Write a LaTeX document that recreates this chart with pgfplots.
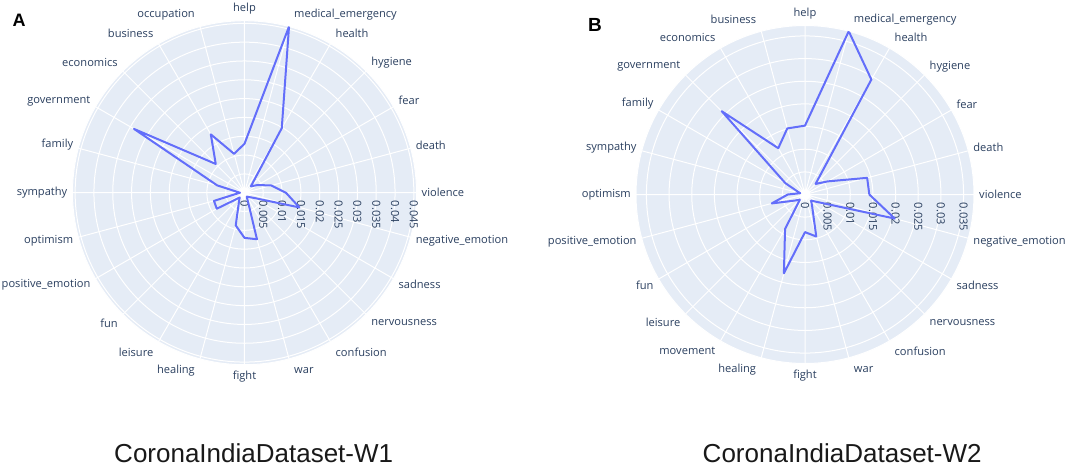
\documentclass[border=0pt]{standalone}
\usepackage{fontspec}
\setmainfont{Open Sans}
\newfontfamily\arial{Liberation Sans}
\usepackage{pgfplots}
\pgfplotsset{compat=1.18}
\usepgfplotslibrary{polar}
\definecolor{plotbg}{HTML}{E5ECF6}
\definecolor{tracecol}{HTML}{636EFA}
\definecolor{labcol}{HTML}{2A3F5F}

\pgfplotstableread{
ang val
0 0.0110
15 0.0074
30 0.0041
45 0.0024
60 0.0198
75 0.0457
90 0.0130
105 0.0107
120 0.0179
135 0.0108
150 0.0339
165 0.0075
180 0.0012
195 0.0084
210 0.0085
225 0.0018
240 0.0030
255 0.0090
270 0.0120
285 0.0128
300 0.0012
315 0.0016
330 0.0027
345 0.0151
360 0.0110
}\dataA

\pgfplotstableread{
ang val
0 0.0142
15 0.0142
30 0.0058
45 0.0033
60 0.0293
75 0.0373
90 0.0152
105 0.0151
120 0.0118
135 0.0260
150 0.0050
165 0.0011
180 0.0038
195 0.0076
210 0.0027
225 0.0016
240 0.0088
255 0.0180
270 0.0083
285 0.0096
300 0.0032
315 0.0019
330 0.0034
345 0.0205
360 0.0142
}\dataB

\pgfplotsset{
  myradar/.style={
    anchor=center,
    scale only axis,
    xmin=0, xmax=360,
    ymin=0,
    xtick={0,15,...,345},
    grid=major,
    major grid style={white, line width=1pt},
    axis line style={white, line width=1pt},
    axis background/.style={fill=plotbg},
    major tick length=0pt,
    tick style={draw=none},
    scaled y ticks=false,
    ticklabel style={font=\fontsize{11.1}{13}\selectfont, text=labcol},
    xticklabel style={
      /utils/exec={%
        \pgfmathsetmacro\myc{cos(\tick)}%
        \pgfmathsetmacro\mys{sin(\tick)}%
        \ifdim\myc pt>0.05pt \def\myanch{west}\def\myxs{5}%
        \else\ifdim\myc pt<-0.05pt \def\myanch{east}\def\myxs{-5}%
        \else\def\myanch{center}\def\myxs{0}\fi\fi
        \pgfmathsetmacro\myys{12*\mys}%
      },
      anchor=\myanch, xshift=\myxs pt, yshift=\myys pt, inner sep=0pt},
    yticklabel style={rotate=-90, anchor=west, inner sep=0pt, xshift=8pt},
  }
}

\begin{document}
\begin{tikzpicture}
\useasboundingbox (0pt,0pt) rectangle (1072pt,-467pt);
\fill[white] (0pt,0pt) rectangle (1072pt,-467pt);

\begin{polaraxis}[myradar,
  at={(244.5pt,-192.7pt)},
  width=344pt, height=344pt,
  ymax=0.0457,
  xticklabels={violence,death,fear,hygiene,health,medical\_emergency,help,occupation,business,economics,government,family,sympathy,optimism,positive\_emotion,fun,leisure,healing,fight,war,confusion,nervousness,sadness,negative\_emotion},
  ytick={0,0.005,0.01,0.015,0.02,0.025,0.03,0.035,0.04,0.045},
  yticklabels={0,0.005,0.01,0.015,0.02,0.025,0.03,0.035,0.04,0.045},
]
\addplot[tracecol, line width=2pt, line join=round, no markers] table[x=ang, y=val] {\dataA};
\end{polaraxis}

\begin{polaraxis}[myradar,
  at={(805pt,-194.5pt)},
  width=338pt, height=338pt,
  ymax=0.0373,
  xticklabels={violence,death,fear,hygiene,health,medical\_emergency,help,business,economics,government,family,sympathy,optimism,positive\_emotion,fun,leisure,movement,healing,fight,war,confusion,nervousness,sadness,negative\_emotion},
  ytick={0,0.005,0.01,0.015,0.02,0.025,0.03,0.035},
  yticklabels={0,0.005,0.01,0.015,0.02,0.025,0.03,0.035},
]
\addplot[tracecol, line width=2pt, line join=round, no markers] table[x=ang, y=val] {\dataB};
\end{polaraxis}

\node[anchor=base west, inner sep=0pt, font=\arial\bfseries\fontsize{18}{20}\selectfont] at (12.5pt,-26pt) {A};
\node[anchor=base west, inner sep=0pt, font=\arial\bfseries\fontsize{19}{21}\selectfont] at (588pt,-31.5pt) {B};
\node[anchor=base, inner sep=0pt, font=\arial\fontsize{26}{30}\selectfont, text=black!90] at (253.7pt,-462.3pt) {CoronaIndiaDataset-W1};
\node[anchor=base, inner sep=0pt, font=\arial\fontsize{26}{30}\selectfont, text=black!90] at (842.2pt,-462.3pt) {CoronaIndiaDataset-W2};
\end{tikzpicture}
\end{document}
